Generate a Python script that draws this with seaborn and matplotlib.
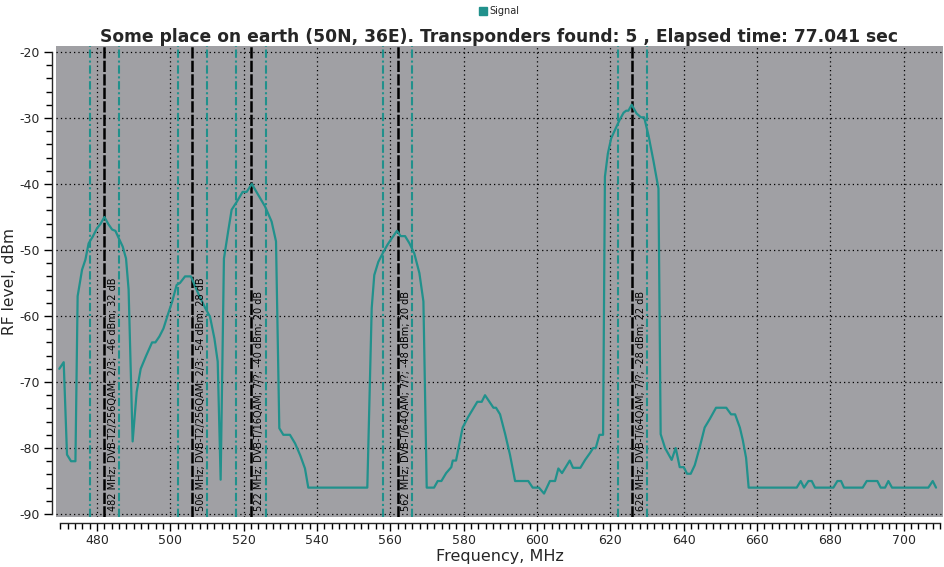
import matplotlib
matplotlib.use("Agg")
import matplotlib.pyplot as plt
from matplotlib.lines import Line2D
import seaborn as sns
import pandas as pd

# ---- data ----
freq = [469.7, 470.9, 471.8, 472.9, 474.1, 474.7, 475.9, 476.8, 477.7, 478.8,
        480.0, 481.0, 482.0, 483.1, 484.1, 485.0, 485.9, 487.0, 487.9, 488.6,
        489.7, 490.8, 491.9, 493.4, 495.0, 495.9, 497.0, 498.1, 499.3, 500.5,
        501.7, 502.6, 504.0, 505.6, 507.6, 509.5, 510.8, 512.0, 512.9, 513.7,
        514.6, 515.8, 516.7, 518.1, 519.7, 520.8, 522.2, 524.0, 525.8, 527.6,
        528.8, 529.7, 530.8, 532.6, 534.0, 535.4, 536.7, 537.6, 553.7, 554.9,
        555.6, 556.7, 557.9, 559.2, 560.4, 561.8, 562.8, 564.0, 565.2, 566.5,
        567.9, 569.0, 569.9, 571.9, 572.9, 573.9, 575.2, 576.6, 577.0, 577.9,
        579.7, 581.2, 582.6, 583.7, 584.9, 585.8, 587.0, 588.1, 588.8, 589.9,
        591.3, 592.6, 594.0, 597.6, 598.8, 600.5, 601.9, 603.5, 604.9, 605.8,
        606.8, 608.9, 609.8, 611.8, 613.1, 614.5, 615.3, 616.0, 617.0, 618.0,
        618.5, 619.3, 620.2, 621.5, 622.6, 623.6, 624.3, 624.9, 625.8, 627.1,
        628.3, 629.2, 630.4, 631.7, 633.1, 633.7, 634.9, 636.7, 637.8, 638.9,
        640.0, 640.9, 641.9, 643.0, 644.3, 645.7, 647.1, 648.8, 651.6, 652.9,
        654.0, 655.3, 656.1, 657.0, 657.7, 670.8, 671.9, 672.8, 674.0, 674.9,
        675.8, 680.8, 681.9, 682.9, 683.7, 688.8, 689.9, 692.8, 693.7, 694.9,
        695.8, 696.8, 706.7, 707.9, 708.8]
level = [-68.0, -67.0, -81.0, -82.0, -82.0, -57.0, -53.0, -51.5, -49.0, -48.0,
         -46.7, -46.0, -45.0, -46.1, -46.9, -47.1, -48.2, -49.5, -51.3, -56.0,
         -79.0, -71.5, -68.0, -66.0, -64.0, -64.0, -63.1, -61.9, -59.8, -57.8,
         -55.3, -55.0, -54.0, -54.0, -56.6, -58.8, -60.1, -63.4, -66.9, -84.8,
         -51.3, -47.0, -43.9, -42.7, -41.2, -41.2, -40.0, -41.7, -43.4, -45.7,
         -48.7, -77.0, -78.0, -78.0, -79.3, -81.1, -83.1, -86.0, -86.0, -58.8,
         -53.8, -51.8, -50.5, -49.2, -48.2, -47.1, -47.9, -47.9, -49.0, -50.5,
         -53.5, -57.8, -86.0, -86.0, -85.0, -85.0, -83.8, -82.9, -81.9, -81.9,
         -76.9, -75.3, -74.0, -73.0, -73.0, -72.0, -73.0, -73.9, -73.9, -74.9,
         -77.9, -81.0, -85.0, -85.0, -86.0, -86.0, -86.9, -85.0, -85.0, -83.1,
         -83.8, -81.9, -83.0, -83.0, -81.8, -80.7, -80.0, -80.0, -78.0, -78.0,
         -38.9, -35.4, -33.1, -31.5, -30.2, -29.2, -28.9, -28.9, -28.0, -29.3,
         -29.9, -29.9, -32.7, -36.4, -40.7, -77.9, -80.0, -81.8, -80.0, -82.9,
         -82.9, -83.9, -83.9, -82.6, -80.0, -76.9, -75.6, -73.9, -73.9, -74.9,
         -74.9, -76.9, -78.8, -81.5, -86.0, -86.0, -85.0, -86.0, -85.0, -85.0,
         -86.0, -86.0, -85.0, -85.0, -86.0, -86.0, -85.0, -85.0, -86.0, -86.0,
         -85.0, -86.0, -86.0, -85.0, -86.0]

tp_freq = [482, 506, 522, 562, 626]
tp_labels = ["482 MHz; DVB-T2/256QAM; 2/3; -46 dBm; 32 dB",
             "506 MHz; DVB-T2/256QAM; 2/3; -54 dBm; 28 dB",
             "522 MHz; DVB-T/16QAM; 7/?; -40 dBm; 20 dB",
             "562 MHz; DVB-T/64QAM; 7/?; -48 dBm; 20 dB",
             "626 MHz; DVB-T/64QAM; 7/?; -28 dBm; 22 dB"]
tp_halfwidth = 4

title = "Some place on earth (50N, 36E). Transponders found: 5 , Elapsed time: 77.041 sec"
x_ticks = [480, 500, 520, 540, 560, 580, 600, 620, 640, 660, 680, 700]
y_ticks = [-20, -30, -40, -50, -60, -70, -80, -90]

# ---- style ----
TEAL = "#21918c"
BG = "#a0a0a4"
sns.set_style("ticks")
plt.rcParams["font.family"] = ["DejaVu Sans"]
plt.rcParams["axes.unicode_minus"] = False

fig = plt.figure(figsize=(9.45, 5.67), dpi=100)
ax = fig.add_axes([56 / 945, 1 - 517 / 567, (943 - 56) / 945, (517 - 46) / 567])
ax.set_facecolor(BG)

df = pd.DataFrame({"Frequency": freq, "Level": level})

for f in tp_freq:
    for d in (-tp_halfwidth, tp_halfwidth):
        ax.axvline(f + d, color=TEAL, lw=1.5, dashes=(4, 1.3, 1, 1.3), zorder=2)
    ax.axvline(f, color="black", lw=1.8, dashes=(4.5, 0.9), zorder=2)

sns.lineplot(data=df, x="Frequency", y="Level", ax=ax, color=TEAL, lw=1.6,
             sort=False, estimator=None, legend=False, zorder=3)

for f, lab in zip(tp_freq, tp_labels):
    ax.text(f + 0.9, -89.6, lab, rotation=90, ha="left", va="bottom",
            fontsize=7.0, color="black", zorder=4)

ax.set_xlim(468.8, 710.7)
ax.set_ylim(-90.45, -19.1)
ax.set_xticks(x_ticks)
ax.set_yticks(y_ticks)
ax.set_xticks(range(470, 711, 2), minor=True)
ax.set_yticks(range(-90, -19, 2), minor=True)
ax.grid(True, which="major", color="black", ls=(0, (1, 2.5)), lw=0.9)
ax.tick_params(axis="both", which="major", length=6, width=1, labelsize=9, color="black", pad=2.5)
ax.tick_params(axis="both", which="minor", length=4, width=1, color="black")

for s in ("top", "right"):
    ax.spines[s].set_visible(False)
ax.spines["left"].set_position(("outward", 3))
ax.spines["bottom"].set_position(("outward", 4))
ax.spines["left"].set_bounds(-90, -20)
ax.spines["bottom"].set_bounds(470, 710)
ax.spines["left"].set_linewidth(1)
ax.spines["bottom"].set_linewidth(1)

ax.set_xlabel("Frequency, MHz", fontsize=11.5, labelpad=1)
ax.set_ylabel("RF level, dBm", fontsize=11.2)
ax.yaxis.set_label_coords((17 - 56) / 887, 0.5)
ax.set_title(title, fontsize=12.3, fontweight="bold", pad=3)

handle = Line2D([], [], marker="s", ls="none", color=TEAL, markersize=6)
fig.legend([handle], ["Signal"], loc="center", bbox_to_anchor=(499.5 / 945, 1 - 11 / 567),
           frameon=False, fontsize=7, handlelength=0.8, handletextpad=0.3, borderpad=0)

fig.savefig("out.png", dpi=100)
